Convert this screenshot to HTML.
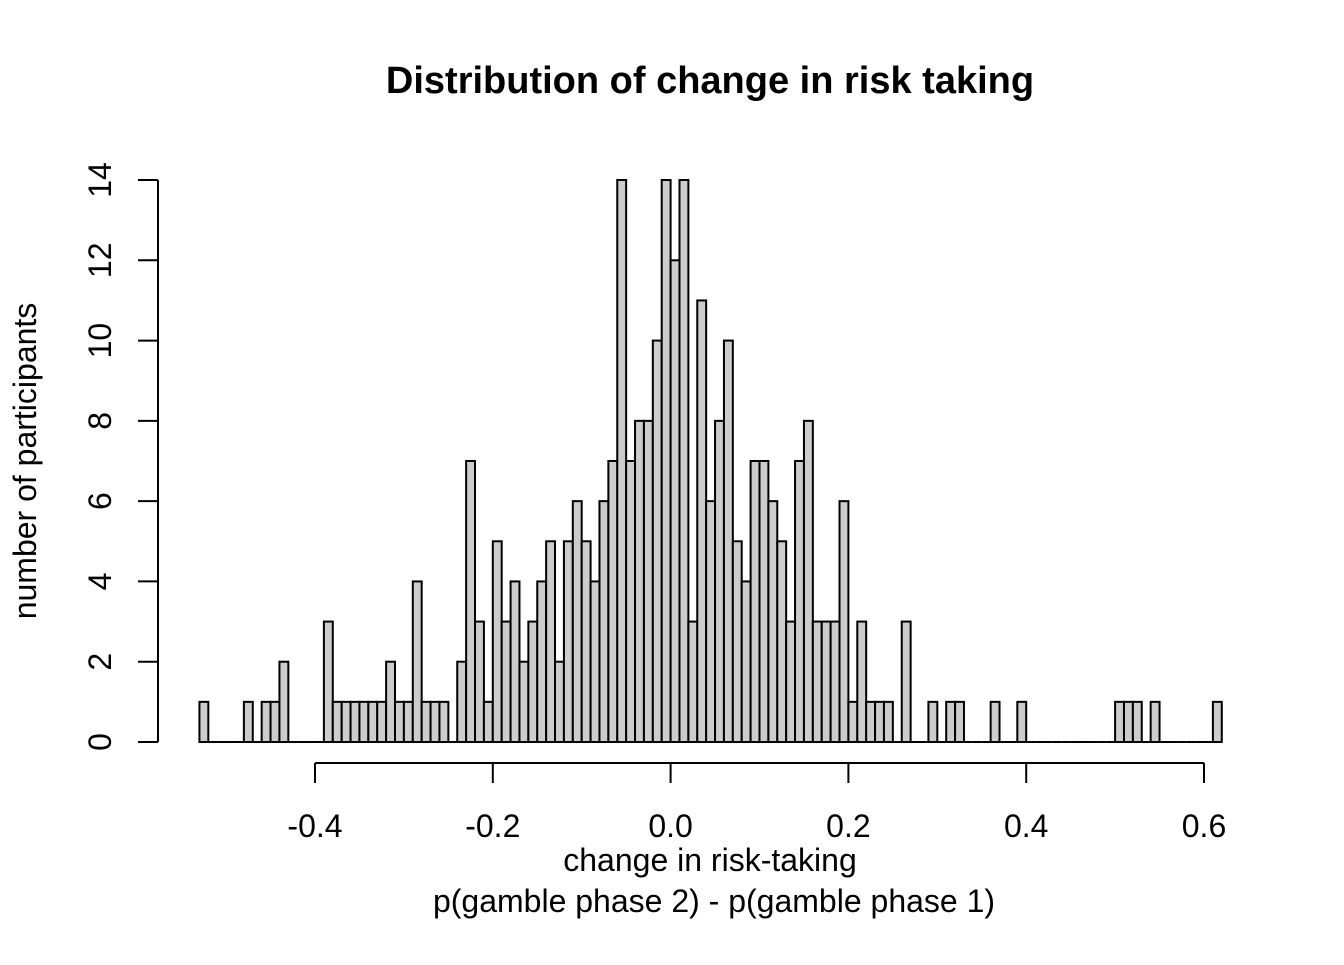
<!DOCTYPE html>
<html><head><meta charset="utf-8"><style>
body{margin:0;background:#fff}
text{font-family:"Liberation Sans",Arial,sans-serif;fill:#000}
</style></head><body>
<svg id="chart" width="1344" height="960" viewBox="0 0 1344 960" xmlns="http://www.w3.org/2000/svg">
<text x="710" y="93" font-size="38" font-weight="bold" text-anchor="middle">Distribution of change in risk taking</text>
<g id="bars"></g>
<g id="xaxis"></g>
<g id="yaxis"></g>
<text x="710" y="871" font-size="32" text-anchor="middle">change in risk-taking</text>
<text x="714" y="912" font-size="32" text-anchor="middle">p(gamble phase 2) - p(gamble phase 1)</text>
<text transform="translate(36,461) rotate(-90)" font-size="32" text-anchor="middle">number of participants</text>
</svg>
<script>
const binStart = -0.53;
const binWidth = 0.01;
const counts = [1,0,0,0,0,1,0,1,1,2, 0,0,0,0,3,1,1,1,1,1, 1,2,1,1,4,1,1,1,0,2,
 7,3,1,5,3,4,2,3,4,5, 2,5,6,5,4,6,7,14,7,8, 8,10,14,12,14,3,11,6,8,10,
 5,4,7,7,6,5,3,7,8,3, 3,3,6,1,3,1,1,1,0,3, 0,0,1,0,1,1,0,0,0,1,
 0,0,1,0,0,0,0,0,0,0, 0,0,0,1,1,1,0,1,0,0, 0,0,0,0,1];
const xTicks = [-0.4,-0.2,0.0,0.2,0.4,0.6];
const xTickLabels = ["-0.4","-0.2","0.0","0.2","0.4","0.6"];
const yTicks = [0,2,4,6,8,10,12,14];

const NS = "http://www.w3.org/2000/svg";
const xs = v => 315 + (v + 0.4) * 889;
const ys = v => 742 - v * (562 / 14);
function mk(tag, attrs, parent){
  const e = document.createElementNS(NS, tag);
  for (const k in attrs) e.setAttribute(k, attrs[k]);
  parent.appendChild(e); return e;
}
const bars = document.getElementById('bars');
counts.forEach((c, i) => {
  const x0 = xs(binStart + i * binWidth), x1 = xs(binStart + (i + 1) * binWidth);
  let r;
  if (c > 0) {
    r = mk('rect', {x: x0, y: ys(c), width: x1 - x0, height: ys(0) - ys(c), fill: '#cccccc', stroke: '#000', 'stroke-width': 2}, bars);
  } else {
    r = mk('line', {x1: x0, x2: x1, y1: ys(0), y2: ys(0), stroke: '#000', 'stroke-width': 2}, bars);
  }
  
  
});
const xa = document.getElementById('xaxis');
mk('line', {x1: xs(xTicks[0]), x2: xs(xTicks[xTicks.length - 1]), y1: 763, y2: 763, stroke: '#000', 'stroke-width': 2}, xa);
xTicks.forEach((t, i) => {
  mk('line', {x1: xs(t), x2: xs(t), y1: 763, y2: 783, stroke: '#000', 'stroke-width': 2}, xa);
  const tx = mk('text', {x: xs(t), y: 837, 'font-size': 32, 'text-anchor': 'middle'}, xa);
  tx.textContent = xTickLabels[i];
  
  
});
const ya = document.getElementById('yaxis');
mk('line', {x1: 158, x2: 158, y1: ys(yTicks[0]), y2: ys(yTicks[yTicks.length - 1]), stroke: '#000', 'stroke-width': 2}, ya);
yTicks.forEach(t => {
  mk('line', {x1: 138, x2: 158, y1: ys(t), y2: ys(t), stroke: '#000', 'stroke-width': 2}, ya);
  const tx = mk('text', {transform: `translate(111,${ys(t)}) rotate(-90)`, 'font-size': 32, 'text-anchor': 'middle'}, ya);
  tx.textContent = String(t);
  
  
});
</script>
</body></html>
